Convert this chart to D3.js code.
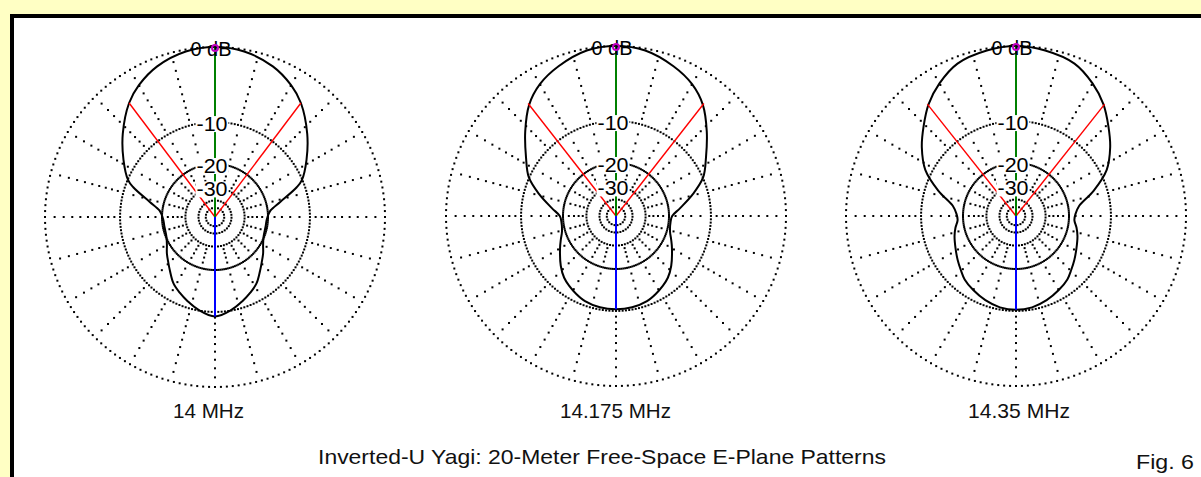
<!DOCTYPE html>
<html><head><meta charset="utf-8">
<script src="https://cdn.jsdelivr.net/npm/d3@7"></script>
<style>html,body{margin:0;padding:0;background:#FFFFC4;overflow:hidden}</style>
</head><body>
<svg id="c" width="1201" height="477"></svg>
<script>
// ---- data ----
const frequencies = ["14 MHz", "14.175 MHz", "14.35 MHz"];
// angle from forward direction (deg), pattern symmetric left/right
const angles14000 = [0, 10, 21, 30, 37, 48, 58, 67, 70, 77, 83, 87, 93, 100, 112, 120, 127, 134, 140, 148, 155, 162, 170, 180];
const gain14000   = [0, -0.2, -0.9, -1.9, -3.0, -5.4, -7.8, -10.1, -11.5, -16.0, -19.0, -19.8, -20.4, -20.5, -20.2, -19.2, -17.8, -16.5, -15.2, -13.3, -12.2, -11.2, -10.1, -9.2];
const angles14175 = [0, 10, 21, 30, 38, 47, 57, 66, 74, 83, 90, 96, 106, 113, 120, 132, 140, 146, 153, 160, 170, 180];
const gain14175   = [0, -0.2, -1.0, -1.9, -3.2, -5.4, -7.9, -9.9, -12.9, -16.6, -19.0, -19.4, -19.0, -17.9, -16.6, -14.2, -12.8, -12.1, -11.4, -10.8, -10.4, -10.3];
const angles14350 = [0, 10, 21, 30, 38, 46, 54, 63, 72, 81, 88, 94, 101, 108, 118, 127, 134, 141, 150, 160, 170, 180];
const gain14350   = [0, -0.2, -0.7, -1.8, -3.1, -4.8, -6.5, -8.8, -12.6, -16.8, -18.0, -18.3, -17.4, -16.6, -15.6, -14.5, -13.6, -12.6, -11.8, -11.0, -10.4, -10.2];
const halfPowerAngles = [37, 38, 38.4];
const outerRings = [0, -10, -20];
const innerRings = [-30, -40, -50];
const ringLabelValues = [0, -10, -20, -30];
const ringLabels = ["0 dB", "-10", "-20", "-30"];
const titleText = "Inverted-U Yagi: 20-Meter Free-Space E-Plane Patterns";
const figText = "Fig. 6";

// ---- layout ----
const W = 1201, H = 477, R = 170;
const centers = [[215, 217], [616, 216], [1016, 216]];
const freqLabelX = [208.5, 615.5, 1019];
const freqLabelW = [71, 111, 102];
const FONT = "'Liberation Sans', Arial, sans-serif";

const svg = d3.select("#c");
svg.append("rect").attr("width", W).attr("height", H).attr("fill", "#FFFFC4");
svg.append("rect").attr("x", 12).attr("y", 16).attr("width", 1200).attr("height", 480)
  .attr("fill", "#fff").attr("stroke", "#000").attr("stroke-width", 4);

// ARRL log scale: radius ratio 0.89 per 2 dB
const lin = d3.scaleLinear().domain([0, 1]).range([0, R]);
const rOf = db => lin(Math.pow(0.89, -db / 2));
const rad = d3.scaleLinear().domain([0, 360]).range([0, 2 * Math.PI]);

const series = [
  {a: angles14000, g: gain14000},
  {a: angles14175, g: gain14175},
  {a: angles14350, g: gain14350}
];

// spoke dB positions
const spokeDb = d3.range(-1, -10, -1).concat([-12, -14, -16, -18, -22, -24, -26, -28]);
const spokeAngles = d3.range(0, 360, 15);
const ringStep = d3.range(0, 360, 2);

series.forEach((s, i) => {
  const [cx, cy] = centers[i];
  const g = svg.append("g").attr("transform", `translate(${cx},${cy})`);
  const pt = (ang, db) => [rOf(db) * Math.sin(rad(ang)), -rOf(db) * Math.cos(rad(ang))];

  // grid dots
  const dots = [];
  outerRings.forEach(db => ringStep.forEach(a => dots.push(pt(a, db))));
  innerRings.forEach(db => {
    const n = Math.round(2 * Math.PI * rOf(db) / 3);
    d3.range(n).forEach(k => dots.push(pt(k * 360 / n, db)));
  });
  spokeAngles.forEach(a => spokeDb.forEach(db => dots.push(pt(a, db))));
  g.append("g").selectAll("rect").data(dots).join("rect")
    .attr("x", d => d[0] - 1).attr("y", d => d[1] - 1)
    .attr("width", 2).attr("height", 2).attr("fill", "#000");

  // pattern (mirrored)
  const full = s.a.map((a, k) => [a, s.g[k]]);
  const mirror = s.a.slice(1, -1).map((a, k) => [360 - a, s.g[k + 1]]).reverse();
  const pts = full.concat(mirror);
  const line = d3.lineRadial()
    .angle(d => rad(d[0])).radius(d => rOf(d[1]))
    .curve(d3.curveCatmullRomClosed.alpha(0.5));
  g.append("path").attr("d", line(pts)).attr("fill", "none")
    .attr("stroke", "#000").attr("stroke-width", 2);

  // beamwidth lines
  const hp = halfPowerAngles[i];
  [hp, -hp].forEach(a => {
    const p = pt(a, -3);
    g.append("line").attr("x1", 0).attr("y1", 0).attr("x2", p[0]).attr("y2", p[1])
      .attr("stroke", "#ff0000").attr("stroke-width", 1.4);
  });
  // max line (green) and back line (blue)
  const pmax = pt(0, s.g[0]);
  g.append("line").attr("x1", 0).attr("y1", 0).attr("x2", pmax[0]).attr("y2", pmax[1])
    .attr("stroke", "#008000").attr("stroke-width", 2);
  const pback = pt(180, s.g[s.g.length - 1]);
  g.append("line").attr("x1", 0).attr("y1", 0).attr("x2", pback[0]).attr("y2", pback[1])
    .attr("stroke", "#0000ff").attr("stroke-width", 2);

  // ring labels
  ringLabelValues.forEach((db, k) => {
    const y = -rOf(db) + 2;
    const txt = ringLabels[k];
    const tw = db === 0 ? 41 : 31;
    const x = db === 0 ? -4 : -3;
    if (db !== 0) {
      g.append("rect").attr("x", x - tw / 2 - 1).attr("y", y - 8).attr("width", tw + 2).attr("height", 16)
        .attr("fill", "#fff");
    }
    g.append("text").attr("x", x).attr("y", y).attr("text-anchor", "middle")
      .attr("dominant-baseline", "central")
      .attr("font-family", FONT).attr("font-size", 20)
      .attr("textLength", tw).attr("lengthAdjust", "spacingAndGlyphs")
      .attr("fill", "#000").text(txt);
  });

  // cursor marker
  g.append("circle").attr("cx", pmax[0]).attr("cy", pmax[1] + 1).attr("r", 3)
    .attr("fill", "none").attr("stroke", "#c000c0").attr("stroke-width", 2);

  // frequency label
  svg.append("text").attr("x", freqLabelX[i]).attr("y", 418).attr("text-anchor", "middle")
    .attr("font-family", FONT).attr("font-size", 21)
    .attr("textLength", freqLabelW[i]).attr("lengthAdjust", "spacingAndGlyphs")
    .attr("fill", "#111").text(frequencies[i]);
});

svg.append("text").attr("x", 602).attr("y", 464).attr("text-anchor", "middle")
  .attr("font-family", FONT).attr("font-size", 21)
  .attr("textLength", 568).attr("lengthAdjust", "spacingAndGlyphs")
  .attr("fill", "#111").text(titleText);
svg.append("text").attr("x", 1165).attr("y", 469).attr("text-anchor", "middle")
  .attr("font-family", FONT).attr("font-size", 21)
  .attr("textLength", 58).attr("lengthAdjust", "spacingAndGlyphs")
  .attr("fill", "#111").text(figText);
</script>
</body></html>
